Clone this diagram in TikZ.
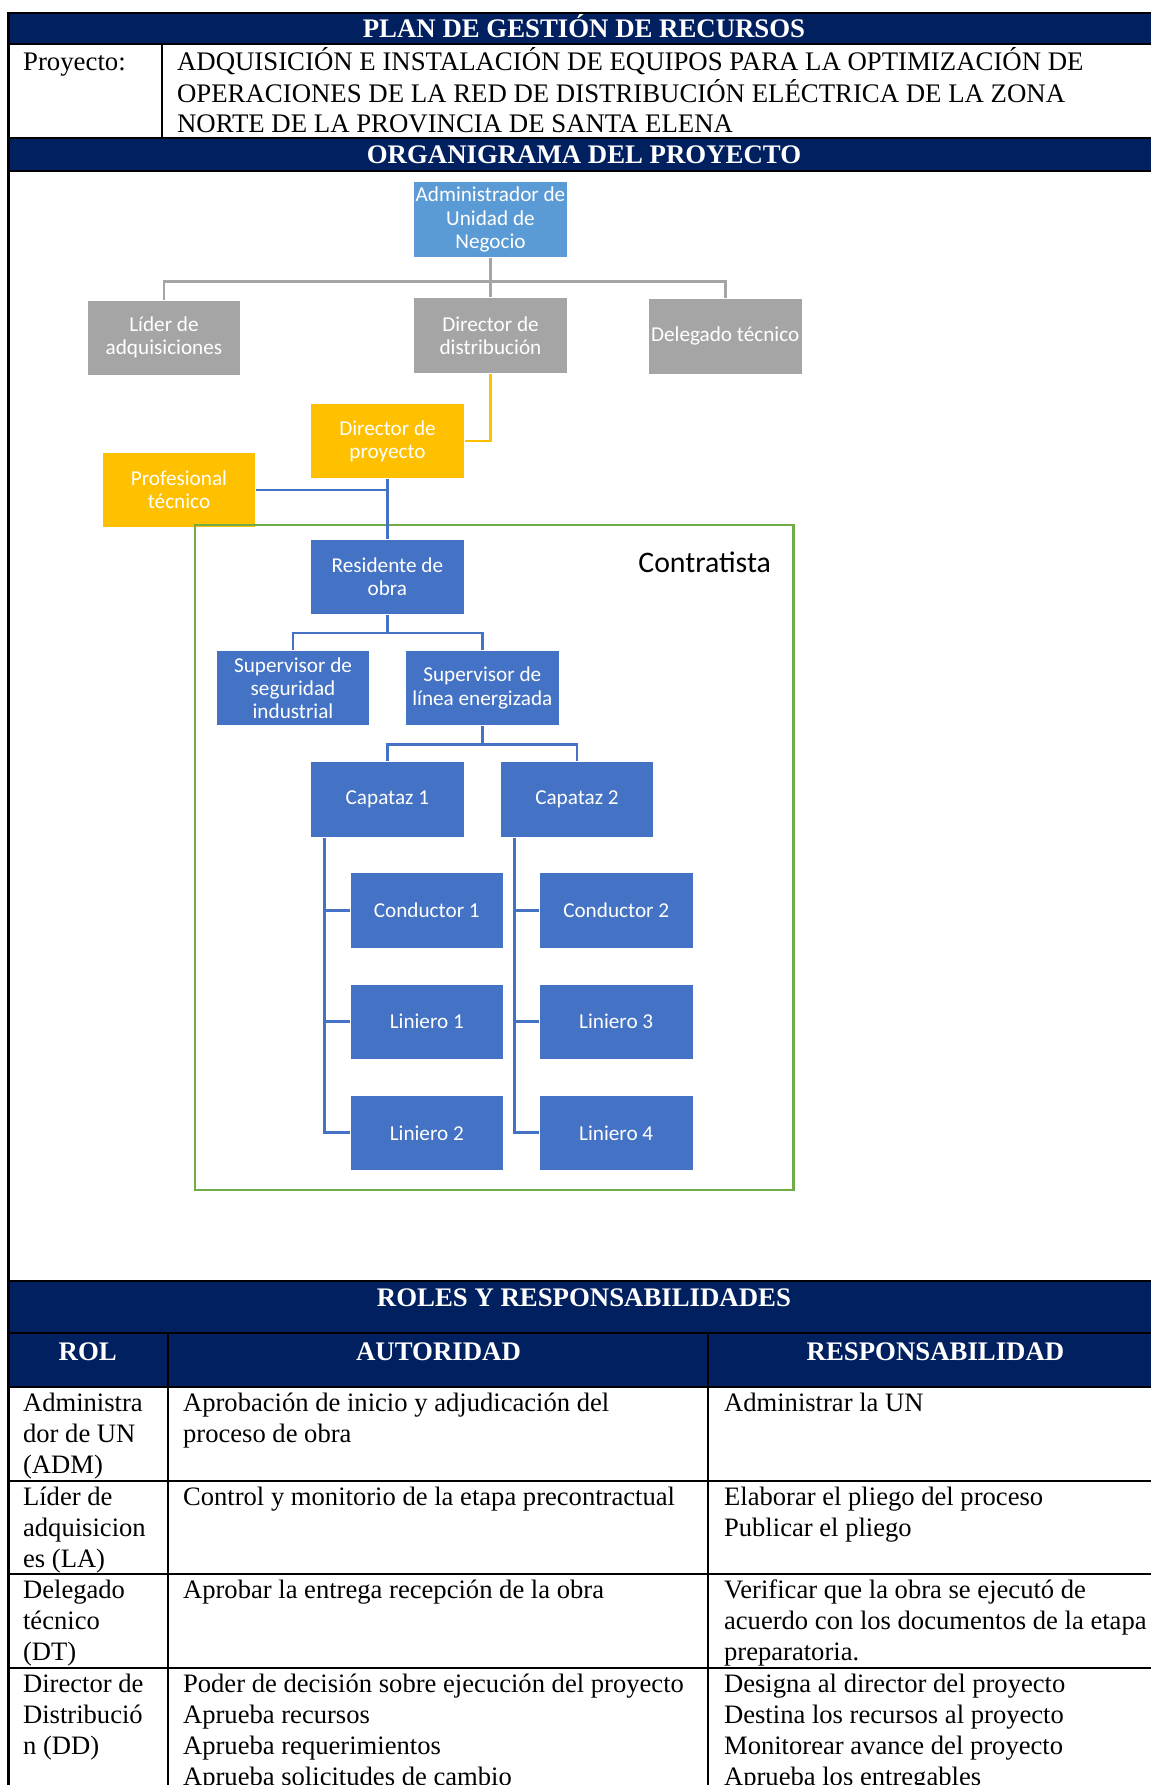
\documentclass[tikz,border=0pt]{standalone}
\usepackage{fontspec}
\setmainfont{Liberation Serif}
\newfontfamily\calibri{Carlito}
\usetikzlibrary{calc}
\definecolor{navy}{HTML}{002060}
\definecolor{boxblue}{HTML}{4472C4}
\definecolor{lightblue}{HTML}{5B9BD5}
\definecolor{boxgrey}{HTML}{A5A5A5}
\definecolor{boxyellow}{HTML}{FFC000}
\definecolor{boxgreen}{HTML}{70AD47}
\newcommand{\mlines}[1]{\begin{tabular}[t]{@{}l@{}}#1\end{tabular}}
\tikzset{
  band/.style={fill=navy, draw=black, line width=1.15pt},
  tline/.style={draw=black, line width=1.15pt},
  htitle/.style={text=white, font=\bfseries\fontsize{13.4}{15.5}\selectfont, anchor=base, inner sep=0pt},
  body/.style={font=\fontsize{13.3}{15.5}\selectfont, anchor=base west, inner sep=0pt},
  bodyp/.style={font=\fontsize{13.4}{15}\selectfont, anchor=base west, inner sep=0pt},
  orgbox/.style={minimum width=76.8pt, minimum height=37.8pt, inner sep=1pt, align=center,
    text=white, font=\calibri\fontsize{10.6}{11.6}\selectfont, draw=white, line width=0.4pt},
  bluebox/.style={orgbox, fill=boxblue},
  greybox/.style={orgbox, fill=boxgrey},
  yellowbox/.style={orgbox, fill=boxyellow},
  greyline/.style={draw=boxgrey, line width=1.35pt},
  yellowline/.style={draw=boxyellow, line width=1.35pt},
  blueline/.style={draw=boxblue, line width=1.35pt},
}
\begin{document}
\begin{tikzpicture}[x=0.5pt, y=-0.5pt]
\clip (0,0) rectangle (1151,1785);
\fill[white] (0,0) rectangle (1151,1785);

% ---------- header table ----------
\path[band] (8.5,13.3) rectangle (1170,44.3);
\node[htitle] (t1) at (584,37.7) {PLAN DE GESTIÓN DE RECURSOS};
\draw[tline] (8.5,44.3) -- (1170,44.3);
\draw[tline] (162.3,44.3) -- (162.3,137.7);
\node[bodyp] (proy) at (22.7,70) {Proyecto:};
\node[bodyp] (proyname) at (176.7,70) {\mlines{ADQUISICIÓN E INSTALACIÓN DE EQUIPOS PARA LA OPTIMIZACIÓN DE\\OPERACIONES DE LA RED DE DISTRIBUCIÓN ELÉCTRICA DE LA ZONA\\NORTE DE LA PROVINCIA DE SANTA ELENA}};
\path[band] (8.5,137.7) rectangle (1170,171);
\node[htitle] (t2) at (584,163.3) {ORGANIGRAMA DEL PROYECTO};
\draw[tline] (8.5,13.3) -- (8.5,1790);

% ---------- org chart ----------
\node[orgbox, fill=lightblue] (adm) at (490.5,219.5) {Administrador de\\Unidad de\\Negocio};
\node[greybox] (lid) at (164,337.7) {Líder de\\adquisiciones};
\node[greybox] (ddi) at (490.5,335.5) {Director de\\distribución};
\node[greybox] (del) at (725.2,336.3) {Delegado técnico};
\node[yellowbox] (dpr) at (387.5,441) {Director de\\proyecto};
\node[yellowbox] (pro) at (179,490) {Profesional\\técnico};

\node[draw=boxgreen, line width=1.4pt, minimum width=299.2pt, minimum height=332.5pt, inner sep=0pt] (cbox) at (494.2,857.5) {};
\node[font=\calibri\fontsize{14.9}{17}\selectfont, anchor=base west, inner sep=0pt] (ctext) at (638,572.5) {Contratista};

\node[bluebox] (res) at (387.4,577) {Residente de\\obra};
\node[bluebox] (sseg) at (293,688) {Supervisor de\\seguridad\\industrial};
\node[bluebox] (slin) at (482.3,688) {Supervisor de\\línea energizada};
\node[bluebox] (cap1) at (387.4,799.4) {Capataz 1};
\node[bluebox] (cap2) at (577,799.4) {Capataz 2};
\node[bluebox] (con1) at (426.8,910.5) {Conductor 1};
\node[bluebox] (lin1) at (426.8,1021.7) {Liniero 1};
\node[bluebox] (lin2) at (426.8,1132.8) {Liniero 2};
\node[bluebox] (con2) at (616.2,910.5) {Conductor 2};
\node[bluebox] (lin3) at (616.2,1021.7) {Liniero 3};
\node[bluebox] (lin4) at (616.2,1132.8) {Liniero 4};

% connectors
\draw[greyline] (adm.south) -- (ddi.north);
\draw[greyline] (lid.north) -- ++(0,-18) -| (del.north);
\draw[yellowline] (ddi.south) |- (dpr.east);
\draw[blueline] (dpr.south) -- (res.north);
\draw[blueline] (pro.east) -- (pro.east -| dpr.south);
\draw[blueline] (res.south) -- ++(0,17.7) -| (sseg.north);
\draw[blueline] (res.south) -- ++(0,17.7) -| (slin.north);
\draw[blueline] (slin.south) -- ++(0,18) -| (cap1.north);
\draw[blueline] (slin.south) -- ++(0,18) -| (cap2.north);
\coordinate (k1) at ($(cap1.south west)+(14.6,0)$);
\coordinate (k2) at ($(cap2.south west)+(14.6,0)$);
\draw[blueline] (k1) |- (lin2.west);
\draw[blueline] (k1 |- con1.west) -- (con1.west);
\draw[blueline] (k1 |- lin1.west) -- (lin1.west);
\draw[blueline] (k2) |- (lin4.west);
\draw[blueline] (k2 |- con2.west) -- (con2.west);
\draw[blueline] (k2 |- lin3.west) -- (lin3.west);

% ---------- roles table ----------
\path[band] (8.5,1281) rectangle (1170,1387);
\draw[tline] (8.5,1333) -- (1170,1333);
\node[htitle] (t3) at (584,1306.7) {ROLES Y RESPONSABILIDADES};
\node[htitle] (hrol) at (87.7,1360) {ROL};
\node[htitle] (haut) at (438.5,1360) {AUTORIDAD};
\node[htitle] (hres) at (935.5,1360) {RESPONSABILIDAD};
\draw[tline] (168,1333) -- (168,1790);
\draw[tline] (708.3,1333) -- (708.3,1790);
\draw[tline] (8.5,1480.7) -- (1170,1480.7);
\draw[tline] (8.5,1574) -- (1170,1574);
\draw[tline] (8.5,1667.7) -- (1170,1667.7);

\node[body] (r1a) at (22.7,1411.5) {\mlines{Administra\\dor de UN\\(ADM)}};
\node[body] (r1b) at (182.7,1411.5) {\mlines{Aprobación de inicio y adjudicación del\\proceso de obra}};
\node[body] (r1c) at (723.7,1411.5) {\mlines{Administrar la UN}};

\node[body] (r2a) at (22.7,1505.2) {\mlines{Líder de\\adquisicion\\es (LA)}};
\node[body] (r2b) at (182.7,1505.2) {\mlines{Control y monitorio de la etapa precontractual}};
\node[body] (r2c) at (723.7,1505.2) {\mlines{Elaborar el pliego del proceso\\Publicar el pliego}};

\node[body] (r3a) at (22.7,1598.5) {\mlines{Delegado\\técnico\\(DT)}};
\node[body] (r3b) at (182.7,1598.5) {\mlines{Aprobar la entrega recepción de la obra}};
\node[body] (r3c) at (723.7,1598.5) {\mlines{Verificar que la obra se ejecutó de\\acuerdo con los documentos de la etapa\\preparatoria.}};

\node[body] (r4a) at (22.7,1692.2) {\mlines{Director de\\Distribució\\n (DD)}};
\node[body] (r4b) at (182.7,1692.2) {\mlines{Poder de decisión sobre ejecución del proyecto\\Aprueba recursos\\Aprueba requerimientos\\Aprueba solicitudes de cambio}};
\node[body] (r4c) at (723.7,1692.2) {\mlines{Designa al director del proyecto\\Destina los recursos al proyecto\\Monitorear avance del proyecto\\Aprueba los entregables}};
\end{tikzpicture}
\end{document}
